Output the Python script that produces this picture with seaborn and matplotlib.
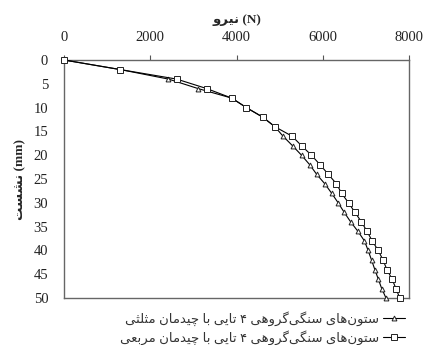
import matplotlib
matplotlib.use("Agg")
import matplotlib.pyplot as plt
import pandas as pd
import seaborn as sns

# --- data ---
settle_mm = [0, 2, 4, 6, 8, 10, 12, 14, 16, 18, 20, 22, 24, 26, 28, 30,
             32, 34, 36, 38, 40, 42, 44, 46, 48, 50]
force_tri = [0, 1300, 2420, 3110, 3890, 4230, 4610, 4890, 5080, 5300, 5510,
             5700, 5860, 6050, 6210, 6360, 6500, 6650, 6820, 6970, 7055,
             7134, 7210, 7290, 7370, 7470]
force_sq = [0, 1300, 2610, 3310, 3890, 4230, 4610, 4890, 5290, 5510, 5740,
            5940, 6130, 6320, 6440, 6600, 6750, 6900, 7030, 7150, 7290,
            7400, 7490, 7610, 7700, 7790]
label_tri = "ستون‌های سنگی‌گروهی ۴ تایی با چیدمان مثلثی"
label_sq = "ستون‌های سنگی‌گروهی ۴ تایی با چیدمان مربعی"
xlabel_fa, xlabel_unit = "نیرو", "(N)"
ylabel_fa, ylabel_unit = "نشست", "(mm)"
xticks = [0, 2000, 4000, 6000, 8000]
yticks = [0, 5, 10, 15, 20, 25, 30, 35, 40, 45, 50]

# minimal Persian shaping (presentation forms) since matplotlib has no bidi
FORMS = {  # iso, fin, init, med
    "ا": ("\uFE8D", "\uFE8E", None, None),
    "د": ("\uFEA9", "\uFEAA", None, None),
    "ر": ("\uFEAD", "\uFEAE", None, None),
    "و": ("\uFEED", "\uFEEE", None, None),
    "ب": ("\uFE8F", "\uFE90", "\uFE91", "\uFE92"),
    "ت": ("\uFE95", "\uFE96", "\uFE97", "\uFE98"),
    "ث": ("\uFE99", "\uFE9A", "\uFE9B", "\uFE9C"),
    "س": ("\uFEB1", "\uFEB2", "\uFEB3", "\uFEB4"),
    "ش": ("\uFEB5", "\uFEB6", "\uFEB7", "\uFEB8"),
    "ع": ("\uFEC9", "\uFECA", "\uFECB", "\uFECC"),
    "ل": ("\uFEDD", "\uFEDE", "\uFEDF", "\uFEE0"),
    "م": ("\uFEE1", "\uFEE2", "\uFEE3", "\uFEE4"),
    "ن": ("\uFEE5", "\uFEE6", "\uFEE7", "\uFEE8"),
    "ه": ("\uFEE9", "\uFEEA", "\uFEEB", "\uFEEC"),
    "ی": ("\uFBFC", "\uFBFD", "\uFBFE", "\uFBFF"),
    "گ": ("\uFB92", "\uFB93", "\uFB94", "\uFB95"),
    "چ": ("\uFB7A", "\uFB7B", "\uFB7C", "\uFB7D"),
}


def fa(text):
    out = []
    for i, ch in enumerate(text):
        if ch not in FORMS:
            if ch != "\u200c":
                out.append(ch)
            continue
        prev = text[i - 1] if i > 0 else ""
        nxt = text[i + 1] if i + 1 < len(text) else ""
        dual = FORMS[ch][2] is not None
        join_prev = prev in FORMS and FORMS[prev][2] is not None
        join_next = dual and nxt in FORMS
        if join_prev and join_next:
            out.append(FORMS[ch][3])
        elif join_prev:
            out.append(FORMS[ch][1])
        elif join_next:
            out.append(FORMS[ch][2])
        else:
            out.append(FORMS[ch][0])
    return "".join(out[::-1])


df = pd.concat([
    pd.DataFrame({"force": force_tri, "settle": settle_mm, "case": fa(label_tri)}),
    pd.DataFrame({"force": force_sq, "settle": settle_mm, "case": fa(label_sq)}),
])

sns.set_style("white")
plt.rcParams["font.family"] = ["Liberation Serif", "DejaVu Sans"]

fig = plt.figure(figsize=(4.25, 3.45), dpi=100)
ax = fig.add_axes([0.151, 0.136, 0.811, 0.690])

for (name, g), mk, ms in zip(df.groupby("case", sort=False), ["^", "s"], [3.5, 4]):
    sns.lineplot(data=g, x="force", y="settle", ax=ax, estimator=None, sort=False,
                 color="black", lw=0.8, marker=mk, ms=ms, mfc="white",
                 mec="#222222", mew=0.7, label=name, clip_on=False, zorder=3)

ax.set_xlim(0, 8000)
ax.set_ylim(50, 0)
ax.set_xticks(xticks)
ax.set_yticks(yticks)
ax.xaxis.tick_top()
ax.xaxis.set_label_position("top")
ax.tick_params(axis="both", labelsize=10.5, length=3.5, width=0.8, color="#555555",
               direction="out", labelcolor="#222222")
ax.tick_params(axis="x", pad=8)
ax.tick_params(axis="y", pad=8)
ax.set_xlabel(fa(xlabel_fa) + " " + xlabel_unit, fontsize=9.5, fontweight="bold",
              labelpad=6)
ax.set_ylabel(fa(ylabel_fa) + " " + ylabel_unit, fontsize=9.5, fontweight="bold",
              labelpad=5)
for s in ax.spines.values():
    s.set_color("#666666")
    s.set_linewidth(1.0)

ax.legend(loc="upper right", bbox_to_anchor=(0.99, -0.055),
          markerfirst=False, frameon=False, fontsize=9.5, handlelength=1.7,
          labelspacing=0.3, borderaxespad=0, borderpad=0, handletextpad=0.3,
          labelcolor="#333333")

fig.savefig("out.png", dpi=100)
